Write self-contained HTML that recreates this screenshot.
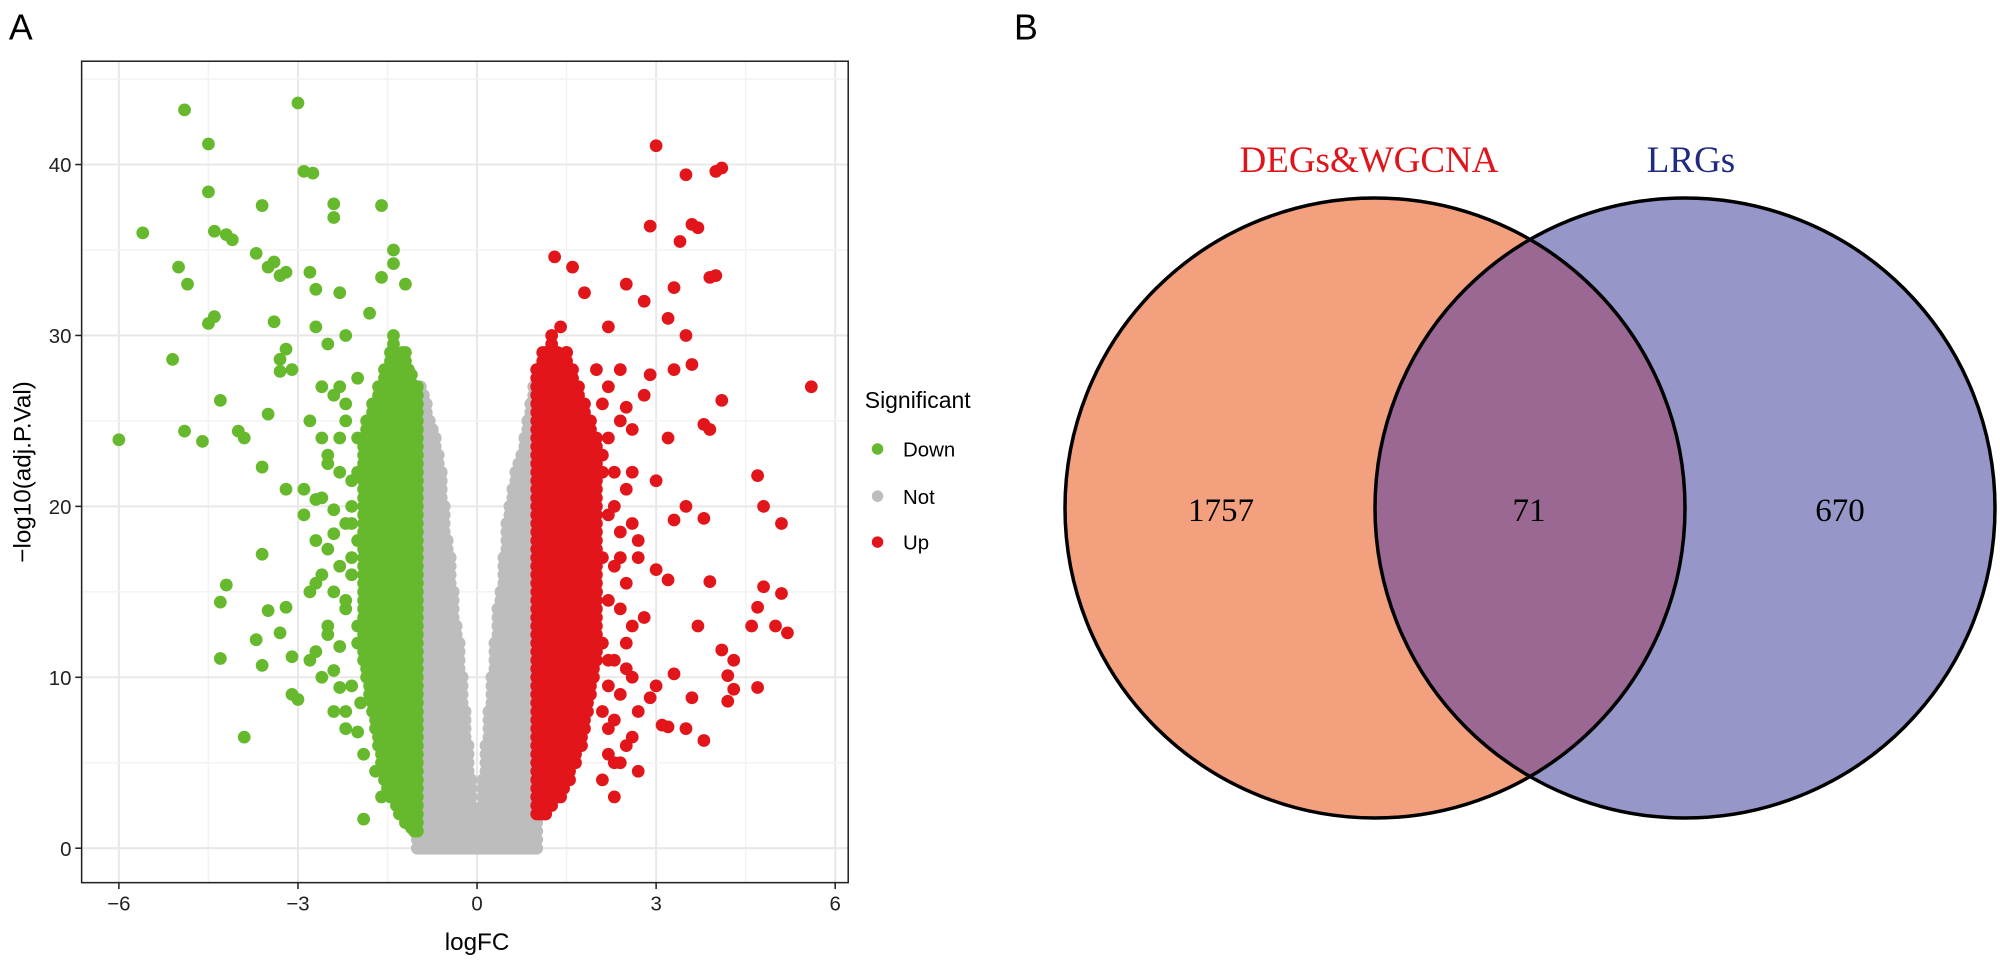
<!DOCTYPE html>
<html><head><meta charset="utf-8"><style>
body{margin:0;background:#fff;}
svg{display:block;}
text{font-family:"Liberation Sans",Arial,sans-serif;}
.serif{font-family:"Liberation Serif","Times New Roman",serif;}
</style></head><body>
<svg id="fig" width="2000" height="972" viewBox="0 0 2000 972" xmlns="http://www.w3.org/2000/svg">
<g transform="scale(1.2755)">
<text x="7" y="31" font-size="28">A</text>
<text x="795" y="31" font-size="28">B</text>
<g id="grid"></g>
<g id="pts"></g>
<rect x="64" y="48" width="601" height="644" fill="none" stroke="#222" stroke-width="1.2"/>
<g id="axes"></g>
<text x="374" y="745" font-size="19" text-anchor="middle">logFC</text>
<text transform="translate(24,370) rotate(-90)" font-size="19" text-anchor="middle">−log10(adj.P.Val)</text>
<g>
<text x="678" y="320" font-size="18">Significant</text>
<circle cx="688" cy="352" r="4.5" fill="#66b82c"/>
<text x="708" y="358" font-size="16">Down</text>
<circle cx="688" cy="389" r="4.5" fill="#bdbdbd"/>
<text x="708" y="395" font-size="16">Not</text>
<circle cx="688" cy="425" r="4.5" fill="#e2151b"/>
<text x="708" y="431" font-size="16">Up</text>
</g>
</g>
<g>
<defs><clipPath id="clipL"><circle cx="1375" cy="508" r="310"/></clipPath></defs>
<circle cx="1375" cy="508" r="310" fill="#f2a07e"/>
<circle cx="1685" cy="508" r="310" fill="#9696c8"/>
<circle cx="1685" cy="508" r="310" fill="#9a6892" clip-path="url(#clipL)"/>
<circle cx="1375" cy="508" r="310" fill="none" stroke="#000" stroke-width="3.5"/>
<circle cx="1685" cy="508" r="310" fill="none" stroke="#000" stroke-width="3.5"/>
<text class="serif" x="1369" y="172" font-size="37" fill="#e0151b" text-anchor="middle">DEGs&amp;WGCNA</text>
<text class="serif" x="1691" y="172" font-size="37" fill="#1f2a80" text-anchor="middle">LRGs</text>
<text class="serif" x="1221" y="521" font-size="33" text-anchor="middle">1757</text>
<text class="serif" x="1529" y="521" font-size="33" text-anchor="middle">71</text>
<text class="serif" x="1840" y="521" font-size="33" text-anchor="middle">670</text>
</g>
</svg>
<script>
const xTicks=[-6,-3,0,3,6];
const yTicks=[0,10,20,30,40];
const xTickLabels=["−6","−3","0","3","6"];
const yTickLabels=["0","10","20","30","40"];
const greyX=[-1.0,-0.95,-0.9,-0.85,-0.8,-0.75,-0.7,-0.65,-0.6,-0.55,-0.5,-0.45,-0.4,-0.35,-0.3,-0.25,-0.2,-0.15,-0.1,-0.05,0,0.05,0.1,0.15,0.2,0.25,0.3,0.35,0.4,0.45,0.5,0.55,0.6,0.65,0.7,0.75,0.8,0.85,0.9,0.95,1.0];
const greyHi=[27,27,26.5,26,25,24.5,24,23,22,20,18,17,15,13,12,10,8,6,4,2,1,2,4,6,8,10,12,14,15,17,19,20,21,22,22.5,23,24,25,26,27,28];
const greenX=[-1.0,-1.05,-1.1,-1.15,-1.2,-1.25,-1.3,-1.35,-1.4,-1.45,-1.5,-1.55,-1.6,-1.65,-1.7,-1.75,-1.8,-1.85,-1.9];
const greenLo=[1,1,1.2,1.5,1.5,2,2,2.5,3,3,3.5,4,5,6,7,8,9,10,11];
const greenHi=[27,27,28,28,29,29,28,29,30,29,28,28,27,27,26,26,25,25,24];
const redX=[1.0,1.05,1.1,1.15,1.2,1.25,1.3,1.35,1.4,1.45,1.5,1.55,1.6,1.65,1.7,1.75,1.8,1.85,1.9,1.95,2.0];
const redLo=[2,2,2,2,2.5,2.5,3,3,3,3.5,4,4,5,5,6,6,7,8,9,10,11];
const redHi=[28,28,29,29,29,30,29,29,28,28,29,28,28,27,27,26,26,25,25,24,24];
const greenPtsX=[-6,-5.6,-5.1,-5,-4.9,-4.9,-4.85,-4.6,-4.5,-4.4,-4.5,-4.5,-4.4,-4.2,-4.1,-4.3,-4.3,-4.2,-4.3,-4.0,-3.9,-3.9,-3.7,-3.6,-3.5,-3.4,-3.3,-3.2,-3.4,-3.3,-3.2,-3.1,-3.3,-3.5,-3.6,-3.6,-3.5,-3.7,-3.6,-3.2,-3.3,-3.1,-3.0,-3.1,-2.9,-2.75,-3.0,-2.8,-2.7,-2.4,-2.4,-2.7,-2.5,-2.2,-2.3,-2.8,-2.6,-2.5,-2.7,-2.9,-3.2,-2.4,-2.6,-2.8,-2.5,-2.7,-2.4,-2.3,-2.2,-2.0,-1.9,-1.7,-1.6,-1.9,-1.6,-1.4,-1.4,-1.2,-1.6,-1.8,-2.0,-2.2,-2.0,-2.1,-2.3,-2.1,-2.2,-2.0,-2.3,-2.1,-2.6,-2.4,-2.2,-2.0,-2.5,-2.3,-2.1,-2.6,-2.4,-2.2,-2.0,-2.5,-2.3,-2.1,-2.7,-2.4,-2.2,-2.0,-2.5,-2.3,-2.8,-2.6,-2.1,-1.95,-2.4,-2.2,-2.9,-2.7];
const greenPtsY=[23.9,36,28.6,34,43.2,24.4,33,23.8,30.7,31.1,41.2,38.4,36.1,35.9,35.6,26.2,14.4,15.4,11.1,24.4,24,6.5,34.8,37.6,34,34.3,33.5,33.7,30.8,28.6,29.2,28,27.9,25.4,22.3,17.2,13.9,12.2,10.7,14.1,12.6,11.2,8.7,9,39.6,39.5,43.6,33.7,32.7,37.7,36.9,30.5,29.5,30,32.5,25,24,22.5,20.4,19.5,21,18.4,16,15,13,11.5,10.4,9.4,8,6.8,5.5,4.5,3,1.7,37.6,35,34.2,33,33.4,31.3,27.5,26,22,20,24,17,14,12,27,19,27,26.5,25,24,23,22,21.5,20.5,19.8,19,18,17.5,16.5,16,15.5,15,14.5,13,12.5,11.8,11,10,9.5,8.5,8,7,21,18];
const redPtsX=[3.0,3.5,4.0,4.1,3.6,3.7,2.9,3.4,1.3,1.6,2.5,3.3,3.9,4.0,2.8,3.2,3.5,2.2,1.4,3.6,3.3,2.9,4.1,5.6,3.8,3.9,3.2,2.6,3.0,3.5,3.8,3.3,4.7,4.8,5.1,2.7,3.0,3.2,3.9,4.8,5.1,4.7,4.6,5.0,5.2,3.7,4.3,4.1,3.3,3.0,3.6,4.2,4.3,4.2,4.7,3.1,3.2,3.5,3.8,2.9,2.7,2.5,2.3,2.1,2.5,2.8,2.6,2.5,2.8,2.4,2.0,2.1,2.2,2.3,2.0,2.2,1.8,1.5,2.4,2.6,2.2,2.1,2.2,2.4,2.6,2.1,2.3,2.5,2.2,2.4,2.7,2.1,2.3,2.5,2.2,2.4,2.6,2.1,2.3,2.5,2.2,2.4,2.1,2.3,2.6,2.2,2.4,2.7,2.3];
const redPtsY=[41.1,39.4,39.6,39.8,36.5,36.3,36.4,35.5,34.6,34,33,32.8,33.4,33.5,32,31,30,30.5,30.5,28.3,28,27.7,26.2,27,24.8,24.5,24,22,21.5,20,19.3,19.2,21.8,20,19,17,16.3,15.7,15.6,15.3,14.9,14.1,13,13,12.6,13,11,11.6,10.2,9.5,8.8,10.1,9.3,8.6,9.4,7.2,7.1,7.0,6.3,8.8,8.0,6,5,4,12,13.5,19,25.8,26.5,28,28,26,24,20,15,11,32.5,29,17,10,7,22,27,25,24.5,23,22,21,19.5,18.5,18,17,16.5,15.5,14.5,14,13,12,11,10.5,9.5,9,8,7.5,6.5,5.5,5,4.5,3];
const X0=64,X1=665,Y0=48,Y1=692;
const sx=v=>374+46.8*v, sy=v=>665-13.4*v;
const NS="http://www.w3.org/2000/svg";
function mk(tag,attrs,parent){const e=document.createElementNS(NS,tag);for(const k in attrs)e.setAttribute(k,attrs[k]);parent.appendChild(e);return e;}
const grid=document.getElementById('grid'),pts=document.getElementById('pts'),axes=document.getElementById('axes');
for(let i=0;i<xTicks.length;i++){
  if(i<xTicks.length-1){const minor=xTicks[i]+1.5;const l=mk('line',{x1:sx(minor),x2:sx(minor),y1:Y0,y2:Y1,stroke:'#f3f3f3','stroke-width':1.2},grid);}
  const g=mk('line',{x1:sx(xTicks[i]),x2:sx(xTicks[i]),y1:Y0,y2:Y1,stroke:'#e8e8e8','stroke-width':1.6},grid);
  
  
  const t=mk('line',{x1:sx(xTicks[i]),x2:sx(xTicks[i]),y1:Y1,y2:Y1+5,stroke:'#222','stroke-width':1.2},axes);
  
  
  const tx=mk('text',{x:sx(xTicks[i]),y:Y1+22,'font-size':16,'text-anchor':'middle',fill:'#222'},axes);
  tx.textContent=xTickLabels[i];
  
  
}
for(let i=0;i<yTicks.length;i++){
  const minor=yTicks[i]+5;
  const m=mk('line',{x1:X0,x2:X1,y1:sy(minor),y2:sy(minor),stroke:'#f3f3f3','stroke-width':1.2},grid);
  
  
  const g=mk('line',{x1:X0,x2:X1,y1:sy(yTicks[i]),y2:sy(yTicks[i]),stroke:'#e8e8e8','stroke-width':1.6},grid);
  
  
  const t=mk('line',{x1:X0-5,x2:X0,y1:sy(yTicks[i]),y2:sy(yTicks[i]),stroke:'#222','stroke-width':1.2},axes);
  
  
  const tx=mk('text',{x:X0-8,y:sy(yTicks[i])+6,'font-size':16,'text-anchor':'end',fill:'#222'},axes);
  tx.textContent=yTickLabels[i];
  
  
}
function dot(x,y,c,name){const d=mk('circle',{cx:sx(x),cy:sy(y),r:5,fill:c},pts);}
function band(xs,lo,hi,c,name){for(let i=0;i<xs.length;i++){for(let y=lo[i];y<=hi[i];y+=0.5){dot(xs[i],y,c,name);}}}
band(greyX,greyX.map(()=>0),greyHi,'#bdbdbd','point-not');
band(greenX,greenLo,greenHi,'#66b82c','point-down');
band(redX,redLo,redHi,'#e2151b','point-up');
for(let i=0;i<greenPtsX.length;i++)dot(greenPtsX[i],greenPtsY[i],'#66b82c','point-down');
for(let i=0;i<redPtsX.length;i++)dot(redPtsX[i],redPtsY[i],'#e2151b','point-up');
</script>
</body></html>
